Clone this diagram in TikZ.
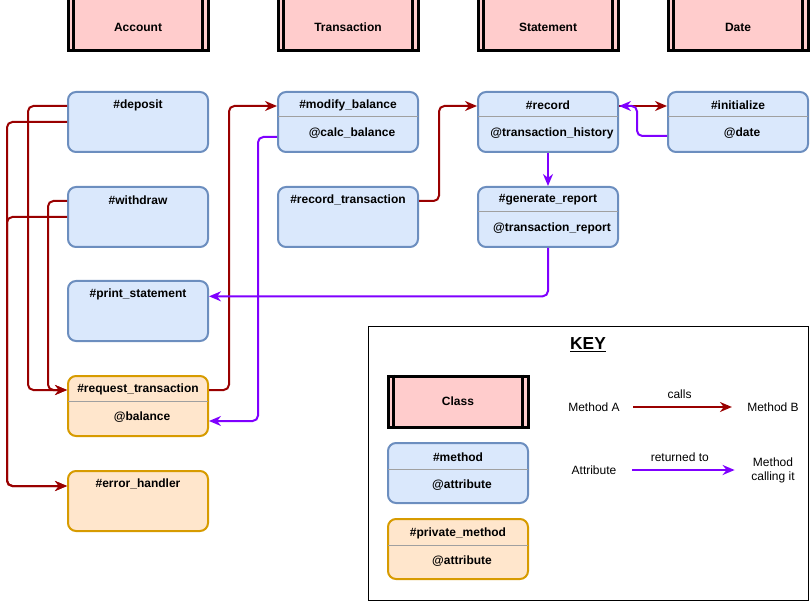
\documentclass[tikz,border=0pt]{standalone}
\usepackage{fontspec}
\setmainfont{Liberation Sans}
\usetikzlibrary{arrows.meta}
\definecolor{clspink}{HTML}{FFCCCC}
\definecolor{methfill}{HTML}{DAE8FC}
\definecolor{methline}{HTML}{6C8EBF}
\definecolor{privfill}{HTML}{FFE6CC}
\definecolor{privline}{HTML}{D79B00}
\definecolor{callred}{HTML}{990000}
\definecolor{retpurple}{HTML}{7F00FF}
\definecolor{divgray}{HTML}{A0A0A0}

\begin{document}
\begin{tikzpicture}[x=0.75pt, y=-0.75pt, font=\fontsize{9}{10.5}\selectfont,
  cls/.style={draw=black, line width=2.25pt, fill=clspink, minimum width=105pt, minimum height=42pt, font=\bfseries\fontsize{9}{10.5}\selectfont},
  meth/.style={draw=methline, fill=methfill, line width=1.5pt, rounded corners=6pt, minimum width=105pt, minimum height=45pt},
  priv/.style={meth, draw=privline, fill=privfill},
  ttl/.style={font=\bfseries\fontsize{9}{10.5}\selectfont, inner sep=0pt},
  attr/.style={ttl},
  divider/.style={draw=divgray, line width=0.75pt},
  calls/.style={draw=callred, line width=1.5pt, rounded corners=4pt, -{Stealth[length=9pt, width=7.5pt]}},
  rets/.style={calls, draw=retpurple}]
\useasboundingbox (0,0) rectangle (810,602);
\clip (0,0) rectangle (810,602);

% classes
\path (138,23) node[cls] (acc) {};
\path (acc) ++(0,4) node[ttl] (accT) {Account};
\path (348,23) node[cls] (tra) {};
\path (tra) ++(0,4) node[ttl] (traT) {Transaction};
\path (548,23) node[cls] (sta) {};
\path (sta) ++(0,4) node[ttl] (staT) {Statement};
\path (738,23) node[cls] (dat) {};
\path (dat) ++(0,4) node[ttl] (datT) {Date};
\foreach \c in {acc, tra, sta, dat} {
  \draw[line width=2.25pt] ([xshift=5.25pt]\c.north west) -- ([xshift=5.25pt]\c.south west);
  \draw[line width=2.25pt] ([xshift=-5.25pt]\c.north east) -- ([xshift=-5.25pt]\c.south east);
}

% Account methods
\path (138,122) node[meth] (dep) {};
\path (dep.north) ++(0,14) node[ttl] (depT) {\#deposit};
\path (138,217) node[meth] (wd) {};
\path (wd.north) ++(0,14) node[ttl] (wdT) {\#withdraw};
\path (138,311) node[meth] (ps) {};
\path (ps.north) ++(0,14) node[ttl] (psT) {\#print\_statement};
\path (138,406) node[priv] (req) {};
\path (req.north) ++(0,14) node[ttl] (reqT) {\#request\_transaction};
\path (req.north) ++(4,42) node[attr] (reqA) {@balance};
\draw[divider] ([xshift=1pt, yshift=-19.5pt]req.north west) -- ([xshift=-1pt, yshift=-19.5pt]req.north east);
\path (138,501) node[priv] (err) {};
\path (err.north) ++(0,14) node[ttl] (errT) {\#error\_handler};

% Transaction methods
\path (348,122) node[meth] (mod) {};
\path (mod.north) ++(0,14) node[ttl] (modT) {\#modify\_balance};
\path (mod.north) ++(4,42) node[attr] (modA) {@calc\_balance};
\draw[divider] ([xshift=1pt, yshift=-19.5pt]mod.north west) -- ([xshift=-1pt, yshift=-19.5pt]mod.north east);
\path (348,217) node[meth] (rt) {};
\path (rt.north) ++(0,14) node[ttl] (rtT) {\#record\_transaction};

% Statement methods
\path (548,122) node[meth] (rec) {};
\path (rec.north) ++(0,14) node[ttl] (recT) {\#record};
\path (rec.north) ++(4,42) node[attr] (recA) {@transaction\_history};
\draw[divider] ([xshift=1pt, yshift=-19.5pt]rec.north west) -- ([xshift=-1pt, yshift=-19.5pt]rec.north east);
\path (548,217) node[meth] (gen) {};
\path (gen.north) ++(0,14) node[ttl] (genT) {\#generate\_report};
\path (gen.north) ++(4,42) node[attr] (genA) {@transaction\_report};
\draw[divider] ([xshift=1pt, yshift=-19.5pt]gen.north west) -- ([xshift=-1pt, yshift=-19.5pt]gen.north east);

% Date methods
\path (738,122) node[meth] (ini) {};
\path (ini.north) ++(0,14) node[ttl] (iniT) {\#initialize};
\path (ini.north) ++(4,42) node[attr] (iniA) {@date};
\draw[divider] ([xshift=1pt, yshift=-19.5pt]ini.north west) -- ([xshift=-1pt, yshift=-19.5pt]ini.north east);

% calls
\draw[calls] ([yshift=12pt]dep.west) -- ++(-39,0) |- ([yshift=12pt]req.west);
\draw[calls] (dep.west) -- ++(-60,0) |- ([yshift=11.25pt]err.west);
\draw[calls] ([yshift=12pt]wd.west) -- ++(-19,0) |- ([yshift=12pt]req.west);
\draw[calls] (wd.west) -- ++(-60,0) |- ([yshift=11.25pt]err.west);
\draw[calls] ([yshift=12pt]req.east) -- ++(20,0) |- ([yshift=12pt]mod.west);
\draw[calls] ([yshift=12pt]rt.east) -- ++(20,0) |- ([yshift=12pt]rec.west);
\draw[calls] ([yshift=12pt]rec.east) -- ([yshift=12pt]ini.west);

% returns
\draw[rets] ([yshift=-11.25pt]mod.west) -- ++(-19,0) |- ([yshift=-11.25pt]req.east);
\draw[rets] ([yshift=-10.5pt]ini.west) -- ++(-30,0) |- ([yshift=12pt]rec.east);
\draw[rets] (rec.south) -- (gen.north);
\draw[rets] (gen.south) |- ([yshift=11pt]ps.east);

% key
\path (588,463) node[draw=black, line width=0.75pt, minimum width=330pt, minimum height=205.5pt] (key) {};
\path (key.north) ++(0,19) node[font=\bfseries\fontsize{13}{15}\selectfont] (keyT) {\underline{KEY}};
\path (458,401.5) node[cls, minimum height=38.25pt] (kcls) {Class};
\draw[line width=2.25pt] ([xshift=5.25pt]kcls.north west) -- ([xshift=5.25pt]kcls.south west);
\draw[line width=2.25pt] ([xshift=-5.25pt]kcls.north east) -- ([xshift=-5.25pt]kcls.south east);
\path (458,473) node[meth] (kmeth) {};
\path (kmeth.north) ++(0,15) node[ttl] (kmethT) {\#method};
\path (kmeth.north) ++(4,43) node[attr] (kmethA) {@attribute};
\draw[divider] ([xshift=1pt, yshift=-20.25pt]kmeth.north west) -- ([xshift=-1pt, yshift=-20.25pt]kmeth.north east);
\path (458,549) node[priv] (kpriv) {};
\path (kpriv.north) ++(0,15) node[ttl] (kprivT) {\#private\_method};
\path (kpriv.north) ++(4,43) node[attr] (kprivA) {@attribute};
\draw[divider] ([xshift=1pt, yshift=-20.25pt]kpriv.north west) -- ([xshift=-1pt, yshift=-20.25pt]kpriv.north east);

\path (594,407) node (ma) {Method A};
\path (773,407) node (mb) {Method B};
\draw[calls, shorten <=6.75pt, shorten >=8pt] (ma) -- (mb) node[midway, above=2pt, xshift=-3pt] (callsL) {calls};
\path (594,470) node (at) {Attribute};
\path (773,470) node[align=center] (mc) {Method\\calling it};
\draw[rets, shorten <=8.25pt, shorten >=9pt] (at) -- (mc) node[midway, above=2pt, xshift=-3pt] (retL) {returned to};
\end{tikzpicture}
\end{document}
